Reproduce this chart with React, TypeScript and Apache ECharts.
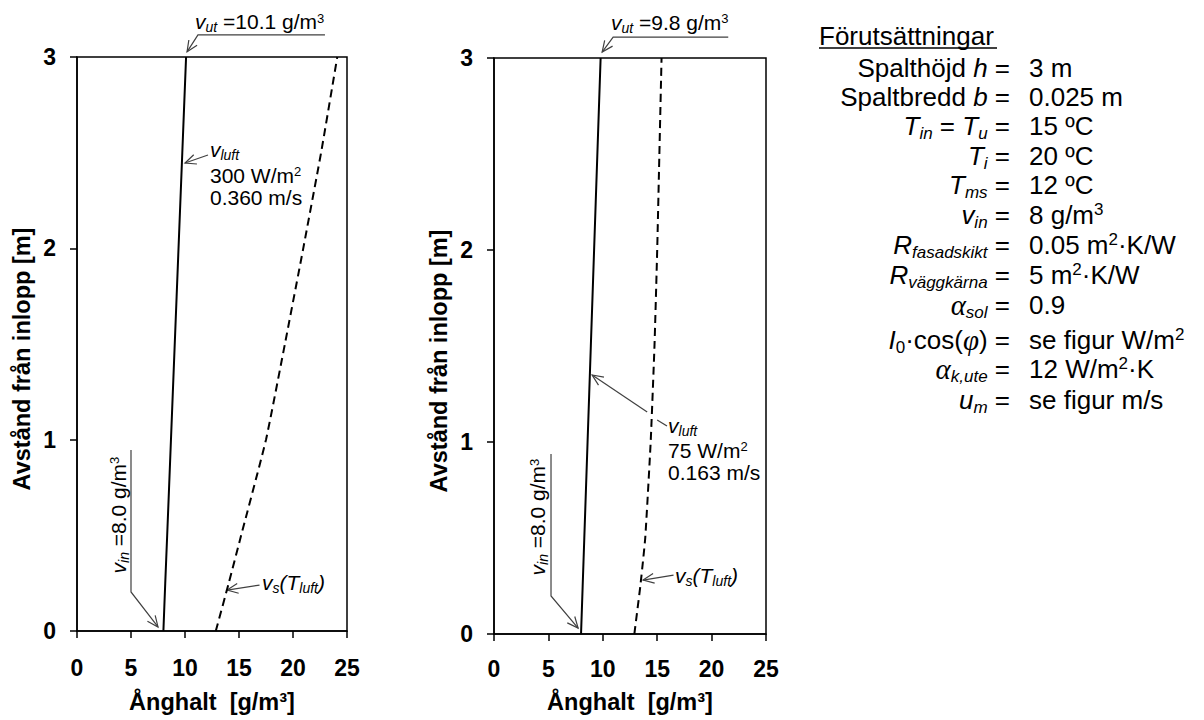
import React, { useEffect, useRef } from "react";
import * as echarts from "echarts";

const F = '"Liberation Sans", Arial, sans-serif';
const FS = '"Liberation Serif", "Times New Roman", serif';

// Height above inlet [m]
const heights = [0, 0.25, 0.5, 1, 1.5, 2, 2.5, 3];
// Left chart (300 W/m2, 0.360 m/s)
const leftVluft = [8.0, 8.17, 8.35, 8.7, 9.05, 9.4, 9.75, 10.1];
const leftVs = [12.85, 14.05, 15.2, 17.5, 19.25, 20.95, 22.6, 24.1];
// Right chart (75 W/m2, 0.163 m/s)
const rightVluft = [8.0, 8.15, 8.3, 8.6, 8.9, 9.2, 9.5, 9.8];
const rightVs = [12.9, 13.45, 13.9, 14.4, 14.75, 15.0, 15.2, 15.4];

const xMin = 0, xMax = 25, xStep = 5;
const yMin = 0, yMax = 3, yStep = 1;

const xName = "Ånghalt  [g/m³]";
const yName = "Avstånd från inlopp [m]";

const panelTitle = "Förutsättningar";
const panelLabels = [
  "{n|Spalthöjd }{i|h}{n| =}",
  "{n|Spaltbredd }{i|b}{n| =}",
  "{i|T}{is|in}{n| = }{i|T}{is|u}{n| =}",
  "{i|T}{is|i}{n| =}",
  "{i|T}{is|ms}{n| =}",
  "{i|v}{is|in}{n| =}",
  "{i|R}{is|fasadskikt}{n| =}",
  "{i|R}{is|väggkärna}{n| =}",
  "{g|α}{is|sol}{n| =}",
  "{i|I}{s|0}{n|·cos(}{g|φ}{n|) =}",
  "{g|α}{is|k,ute}{n| =}",
  "{i|u}{is|m}{n| =}",
];
const panelValues = [
  "{n|3 m}",
  "{n|0.025 m}",
  "{n|15 ºC}",
  "{n|20 ºC}",
  "{n|12 ºC}",
  "{n|8 g/m}{sup|3}",
  "{n|0.05 m}{sup|2}{n|·K/W}",
  "{n|5 m}{sup|2}{n|·K/W}",
  "{n|0.9}",
  "{n|se figur W/m}{sup|2}",
  "{n|12 W/m}{sup|2}{n|·K}",
  "{n|se figur m/s}",
];
const panelRowsY = [68, 97, 126, 156, 185, 215, 245, 275, 305, 340, 369, 400];

function richStyles(fs: number, subShift: number, supShift: number) {
  const base = { fontFamily: F, fill: "#000", verticalAlign: "middle" };
  const small = Math.round(fs * 0.66);
  return {
    n: { ...base, fontSize: fs },
    i: { ...base, fontSize: fs, fontStyle: "italic" },
    is: { ...base, fontSize: small, lineHeight: small, fontStyle: "italic", padding: [subShift * 2, 0, 0, 0] },
    s: { ...base, fontSize: small, lineHeight: small, padding: [subShift * 2, 0, 0, 0] },
    sup: { ...base, fontSize: Math.round(fs * 0.64), lineHeight: Math.round(fs * 0.64), padding: [0, 0, supShift * 2, 0] },
    g: { ...base, fontSize: Math.round(fs * 1.1), fontStyle: "italic", fontFamily: FS },
  };
}

const axisCommon = {
  axisLine: { show: true, onZero: false, lineStyle: { color: "#000", width: 1.5 } },
  axisTick: { show: true, length: 7, lineStyle: { color: "#000", width: 1.5 } },
  splitLine: { show: false },
};

function xAxis(gridIndex: number, nameGap: number, margin: number) {
  return {
    type: "value",
    gridIndex,
    min: xMin,
    max: xMax,
    interval: xStep,
    ...axisCommon,
    axisLabel: { color: "#000", fontFamily: F, fontWeight: "bold", fontSize: 23, margin },
    name: xName,
    nameLocation: "middle",
    nameGap,
    nameTextStyle: { color: "#000", fontFamily: F, fontWeight: "bold", fontSize: 23.5 },
  };
}

function yAxis(gridIndex: number) {
  return {
    type: "value",
    gridIndex,
    min: yMin,
    max: yMax,
    interval: yStep,
    ...axisCommon,
    axisLabel: { color: "#000", fontFamily: F, fontWeight: "bold", fontSize: 23, margin: 21 },
    name: yName,
    nameLocation: "middle",
    nameGap: 43,
    nameTextStyle: { color: "#000", fontFamily: F, fontWeight: "bold", fontSize: 23.5, padding: [0, 30, 0, 0] },
  };
}

function lineSeries(idx: number, xs: number[], dashed: boolean) {
  return {
    type: "line",
    xAxisIndex: idx,
    yAxisIndex: idx,
    data: heights.map((h, i) => [xs[i], h]),
    showSymbol: false,
    symbol: "none",
    silent: true,
    clip: false,
    smooth: 0.15,
    lineStyle: { color: "#000", width: 2, type: dashed ? [8, 5] : "solid" },
  };
}

type Pt = number[];
const LEAD = { stroke: "#404040", lineWidth: 1.2, fill: "none" };

function leader(points: Pt[], head: boolean): any[] {
  const out: any[] = [{ type: "polyline", silent: true, shape: { points }, style: LEAD }];
  if (head) {
    const tip = points[points.length - 1];
    const from = points[points.length - 2];
    const dx = from[0] - tip[0], dy = from[1] - tip[1];
    const d = Math.hypot(dx, dy);
    const ux = dx / d, uy = dy / d;
    const len = 12, a = 0.42;
    const rot = (t: number) => [
      tip[0] + len * (ux * Math.cos(t) - uy * Math.sin(t)),
      tip[1] + len * (ux * Math.sin(t) + uy * Math.cos(t)),
    ];
    out.push({ type: "polyline", silent: true, shape: { points: [rot(a), tip, rot(-a)] }, style: LEAD });
  }
  return out;
}

function label(x: number, y: number, text: string, opts: any = {}) {
  return {
    type: "text",
    silent: true,
    x,
    y,
    rotation: opts.rotation || 0,
    style: {
      text,
      rich: richStyles(opts.fs || 21, opts.sub ?? 5.5, opts.sup ?? 3.5),
      fontFamily: F,
      fontSize: opts.fs || 21,
      fill: "#000",
      align: opts.align || "left",
      verticalAlign: "middle",
    },
  };
}

// Annotation anchors, in data coordinates [x, y] of each chart
const annotations = [
  {
    grid: 0,
    leaders: [
      { pts: [[22.96, 3.116], [11.2, 3.116], [10.19, 3.027]], head: true },
      { pts: [[12.13, 2.488], [10.0, 2.446]], head: true },
      { pts: [[5.0, 0.946], [5.0, 0.204], [7.5, 0.021]], head: true },
      { pts: [[16.9, 0.24], [13.9, 0.214]], head: true },
    ],
    texts: [
      { at: [10.93, 3.183], t: "{i|v}{is|ut}{n| =10.1 g/m}{sup|3}" },
      { at: [12.31, 2.515], t: "{i|v}{is|luft}" },
      { at: [12.31, 2.382], t: "{n|300 W/m}{sup|2}" },
      { at: [12.31, 2.267], t: "{n|0.360 m/s}" },
      { at: [3.8, 0.606], t: "{i|v}{is|in}{n| =8.0 g/m}{sup|3}", rotation: Math.PI / 2, align: "center" },
      { at: [17.13, 0.256], t: "{i|v}{is|s}{i|(T}{is|luft}{i|)}" },
    ],
  },
  {
    grid: 1,
    leaders: [
      { pts: [[21.53, 3.109], [10.95, 3.109], [9.94, 3.031]], head: true },
      { pts: [[15.9, 1.083], [15.0, 1.115]], head: false },
      { pts: [[14.08, 1.156], [9.02, 1.349]], head: true },
      { pts: [[5.24, 0.9375], [5.24, 0.198], [7.73, 0.031]], head: true },
      { pts: [[16.5, 0.307], [13.7, 0.281]], head: true },
    ],
    texts: [
      { at: [10.75, 3.1875], t: "{i|v}{is|ut}{n| =9.8 g/m}{sup|3}" },
      { at: [16.0, 1.084], t: "{i|v}{is|luft}" },
      { at: [16.0, 0.956], t: "{n|75 W/m}{sup|2}" },
      { at: [16.0, 0.842], t: "{n|0.163 m/s}" },
      { at: [4.04, 0.609], t: "{i|v}{is|in}{n| =8.0 g/m}{sup|3}", rotation: Math.PI / 2, align: "center" },
      { at: [16.64, 0.307], t: "{i|v}{is|s}{i|(T}{is|luft}{i|)}" },
    ],
  },
];

export default function App() {
  const ref = useRef<HTMLDivElement>(null);
  useEffect(() => {
    document.body.style.margin = "0";
    const chart = echarts.init(ref.current!, undefined, { renderer: "svg", width: 1204, height: 720 });
    chart.setOption({
      animation: false,
      backgroundColor: "#fff",
      grid: [
        { left: 77, top: 57, width: 270, height: 574, show: true, borderColor: "#000", borderWidth: 1.5, containLabel: false },
        { left: 494, top: 58, width: 272, height: 576, show: true, borderColor: "#000", borderWidth: 1.5, containLabel: false },
      ],
      xAxis: [xAxis(0, 59, 25), xAxis(1, 56, 23)],
      yAxis: [yAxis(0), yAxis(1)],
      series: [
        lineSeries(0, leftVluft, false),
        lineSeries(0, leftVs, true),
        lineSeries(1, rightVluft, false),
        lineSeries(1, rightVs, true),
      ],
    });

    const els: any[] = [];
    annotations.forEach((a) => {
      const px = (p: Pt) => chart.convertToPixel({ gridIndex: a.grid } as any, p) as number[];
      a.leaders.forEach((l) => els.push(...leader(l.pts.map(px), l.head)));
      a.texts.forEach((t: any) => {
        const p = px(t.at);
        els.push(label(p[0], p[1], t.t, { rotation: t.rotation, align: t.align }));
      });
    });

    // Parameter panel
    els.push({
      type: "text",
      silent: true,
      x: 819,
      y: 36,
      style: { text: panelTitle, fontFamily: F, fontSize: 26, fill: "#000", align: "left", verticalAlign: "middle" },
    });
    els.push({ type: "line", silent: true, shape: { x1: 819, y1: 48, x2: 997, y2: 48 }, style: { stroke: "#000", lineWidth: 1.5 } });
    panelLabels.forEach((t, i) => {
      els.push(label(1010, panelRowsY[i], t, { fs: 26, align: "right", sub: 7, sup: 5 }));
      els.push(label(1029, panelRowsY[i], panelValues[i], { fs: 26, align: "left", sub: 7, sup: 5.5 }));
    });

    chart.setOption({ graphic: els });
    return () => chart.dispose();
  }, []);
  return <div ref={ref} style={{ width: 1204, height: 720 }} />;
}
